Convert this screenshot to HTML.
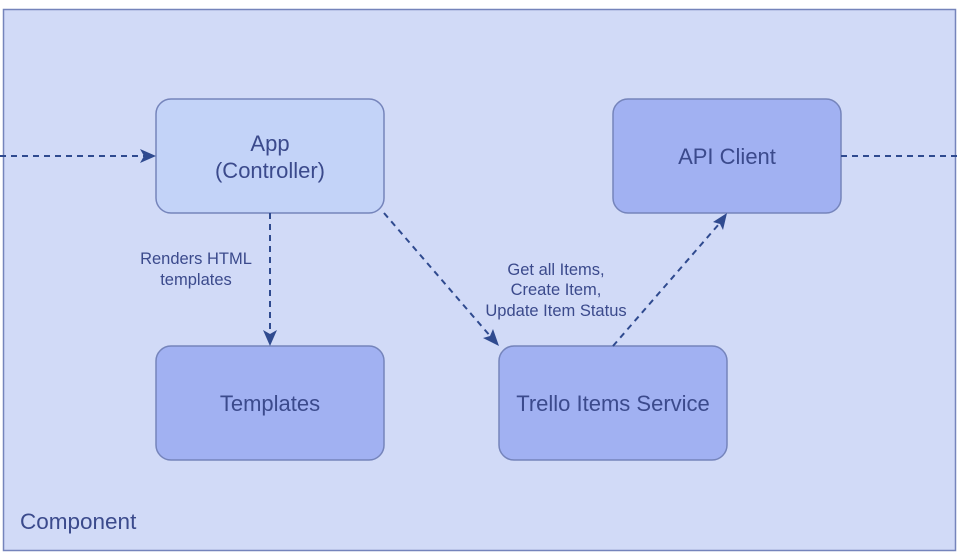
<!DOCTYPE html>
<html><head><meta charset="utf-8"><style>
html,body{margin:0;padding:0;background:#fff;width:960px;height:556px;overflow:hidden}
svg text{font-family:"Liberation Sans",Arial,sans-serif;fill:#3b4a8c}
</style></head><body>
<svg width="960" height="556" viewBox="0 0 960 556" xmlns="http://www.w3.org/2000/svg">
<rect x="3.5" y="9.5" width="952" height="541" fill="#d1daf7" stroke="#7584bb" stroke-width="1.5"/>
<g stroke="#7584bb" stroke-width="1.5">
<rect x="156" y="99" width="228" height="114" rx="15" fill="#c3d3f8"/>
<rect x="613" y="99" width="228" height="114" rx="15" fill="#a1b1f2"/>
<rect x="156" y="346" width="228" height="114" rx="15" fill="#a1b1f2"/>
<rect x="499" y="346" width="228" height="114" rx="15" fill="#a1b1f2"/>
</g>
<g stroke="#2f4a8f" stroke-width="2" stroke-dasharray="6,5" fill="none">
<line x1="0" y1="156" x2="144" y2="156"/>
<line x1="841" y1="156" x2="960" y2="156"/>
<line x1="270" y1="213" x2="270" y2="333"/>
<line x1="384" y1="213" x2="491" y2="337"/>
<line x1="613" y1="346" x2="719" y2="224"/>
</g>
<g fill="#2f4a8f">
<polygon points="156,156 140,149 144,156 140,163"/>
<polygon points="270,346 263,330 270,334 277,330"/>
<polygon points="499,346 483,338 490,336 493,329"/>
<polygon points="727,213 723,230 720,224 713,222"/>
</g>
<g font-size="22" text-anchor="middle">
<text x="270" y="151">App</text>
<text x="270" y="178">(Controller)</text>
<text x="727" y="164">API Client</text>
<text x="270" y="411">Templates</text>
<text x="613" y="411">Trello Items Service</text>
</g>
<g font-size="16.5" text-anchor="middle">
<text x="196" y="264">Renders HTML</text>
<text x="196" y="285">templates</text>
<text x="556" y="275">Get all Items,</text>
<text x="556" y="295">Create Item,</text>
<text x="556" y="316">Update Item Status</text>
</g>
<text x="20" y="529" font-size="22.5">Component</text>
</svg>
</body></html>
